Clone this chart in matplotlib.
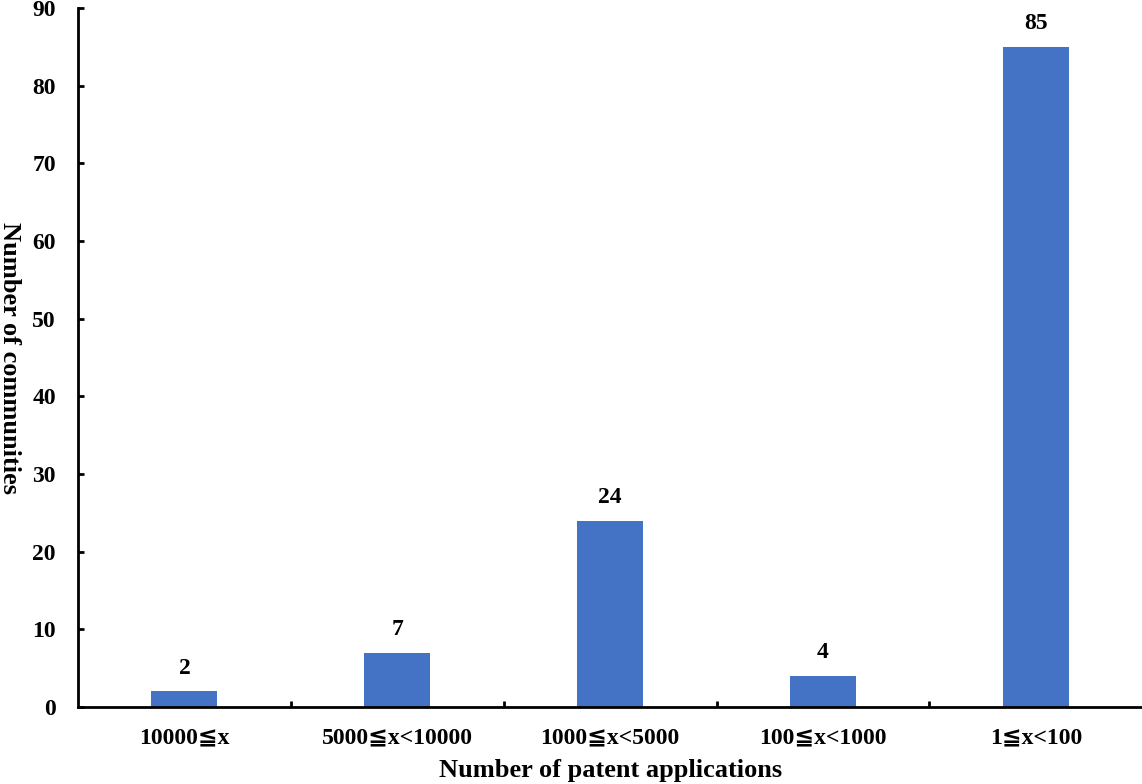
import matplotlib.pyplot as plt
import numpy as np

categories = ["10000≦x", "5000≦x<10000", "1000≦x<5000", "100≦x<1000", "1≦x<100"]
counts = [2, 7, 24, 4, 85]

plt.rcParams["font.family"] = ["Liberation Serif", "DejaVu Serif", "DejaVu Sans"]
plt.rcParams["font.weight"] = "bold"

fig = plt.figure(figsize=(11.42, 7.84), dpi=100)
ax = fig.add_axes([0.0683, 0.0982, 0.932, 0.8916])

x = np.arange(len(categories))
ax.bar(x, counts, width=0.31, color="#4472C4")

for xi, v in zip(x, counts):
    ax.annotate(str(v), (xi, v), xytext=(0, 9), textcoords="offset points",
                ha="center", va="bottom", fontsize=17, fontweight="bold")

ax.set_xlim(-0.5, len(categories) - 0.5)
ax.set_ylim(0, 90)
ax.set_yticks(np.arange(0, 91, 10))
ax.set_xticks(x)
ax.set_xticklabels(categories)
ax.set_xticks(x[:-1] + 0.5, minor=True)

for s in ["top", "right"]:
    ax.spines[s].set_visible(False)
for s in ["left", "bottom"]:
    ax.spines[s].set_linewidth(2)

ax.tick_params(axis="y", direction="in", length=4, width=2, pad=16, labelsize=17)
ax.tick_params(axis="x", which="major", length=0, pad=15, labelsize=17)
ax.tick_params(axis="x", which="minor", direction="in", length=4, width=2)

# y label reads top-to-bottom and is partly cut off at the left edge
fig.text(9 / 1142, 1 - 358 / 784, "Number of communities", rotation=-90,
         ha="center", va="center", fontsize=19, fontweight="bold")
ax.set_xlabel("Number of patent applications", fontsize=19, fontweight="bold")
ax.xaxis.set_label_coords(0.5, -0.074)

fig.savefig("out.png", dpi=100)
